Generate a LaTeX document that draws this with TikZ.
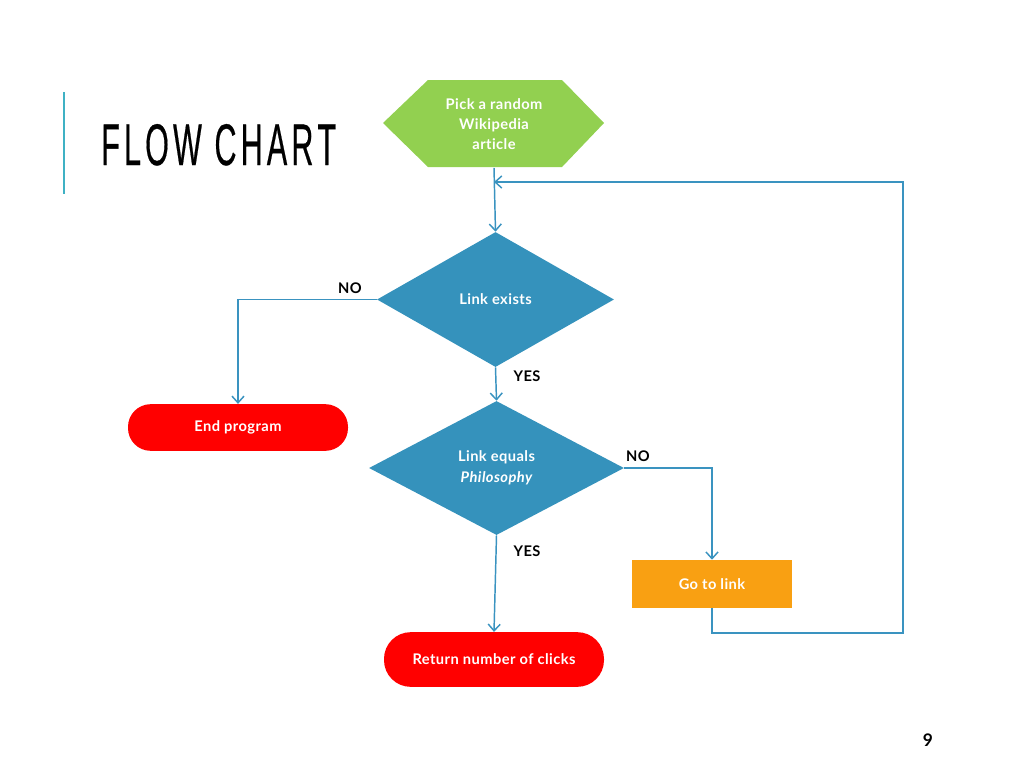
\documentclass[tikz,border=0pt]{standalone}
\usepackage{fontspec}
\setmainfont{Lato}[LetterSpace=3,Ligatures={NoCommon,NoRare,NoDiscretionary}]
\newfontfamily\titlefont{Liberation Sans}[FakeBold=0.6]
\usetikzlibrary{shapes.geometric,arrows.meta}
\definecolor{hexgreen}{HTML}{92D050}
\definecolor{diablue}{HTML}{3592BC}
\definecolor{linkblue}{HTML}{3A93C0}
\definecolor{endred}{HTML}{FF0000}
\definecolor{goorange}{HTML}{F9A012}
\definecolor{barteal}{HTML}{3FB1C4}
\tikzset{
  lbl/.style={font=\fontsize{11}{12}\selectfont\bfseries, text=white, align=center},
  ans/.style={font=\fontsize{11}{12}\selectfont\bfseries, text=black, inner sep=0pt},
  decision/.style={diamond, fill=diablue, inner sep=0pt, minimum width=#1, lbl},
  stadium/.style={fill=endred, rounded corners=17pt, minimum height=35pt, inner sep=0pt, lbl},
  conn/.style={draw=linkblue, line width=1.1pt, -{Straight Barb[length=5pt,width=9pt]}},
  plain/.style={draw=linkblue, line width=1.1pt}
}
\begin{document}
\begin{tikzpicture}[x=0.75pt,y=-0.75pt]
\useasboundingbox (0,0) rectangle (1024,768);
% title bar
\draw[barteal, line width=1.6pt] (64,92) -- (64,194);
\node[anchor=base west, inner sep=0pt] (title) at (101,165)
  {\titlefont\fontsize{44}{44}\selectfont\scalebox{0.52}[1]{F\kern6pt L\kern6pt O\kern6pt W\kern6pt\ C\kern6pt H\kern6pt A\kern6pt R\kern6pt T}};
% hexagon
\fill[hexgreen] (383,123) -- (428,80) -- (562,80) -- (604,123) -- (562,167) -- (428,167) -- cycle;
\node[lbl, minimum width=221*0.75pt, minimum height=87*0.75pt, inner sep=0pt] (pick) at (494,124)
  {Pick a random\\[3pt]Wikipedia\\[3pt]article};
% diamonds
\node[decision=237*0.75pt, minimum height=135*0.75pt] (d1) at (495.5,299.5) {Link exists};
\node[decision=255*0.75pt, minimum height=134*0.75pt] (d2) at (496.5,468) {Link equals\\[4pt]\itshape Philosophy};
% terminals
\node[stadium, minimum width=220*0.75pt] (endp) at (238,427.5) {End program};
\node[stadium, minimum width=220*0.75pt, minimum height=41pt, rounded corners=20pt] (ret) at (494,659.5) {Return number of clicks};
\node[fill=goorange, minimum width=160*0.75pt, minimum height=48*0.75pt, inner sep=0pt, lbl] (go) at (712,584) {Go to link};
% page number
\node[font=\fontsize{13}{14}\selectfont\bfseries, inner sep=0pt] (pg) at (928,740) {9};
% connectors
\coordinate (loopin) at (pick.south |- 0,182);
\draw[conn] (pick.south) -- (d1.north);
\draw[conn] (d1.west) -| (endp.north);
\draw[conn] (d1.south) -- (d2.north);
\draw[conn] (d2.east) -| (go.north);
\draw[conn] (d2.south) -- (ret.north);
\draw[plain] (go.south) |- (903,633) -- (903,182) -- (loopin);
\draw[conn] (903,182) -- (loopin);
% answer labels
\node[ans] (no1) at (350,288) {NO};
\node[ans] (yes1) at (527,376) {YES};
\node[ans] (no2) at (638,456) {NO};
\node[ans] (yes2) at (527,551) {YES};
\end{tikzpicture}
\end{document}
